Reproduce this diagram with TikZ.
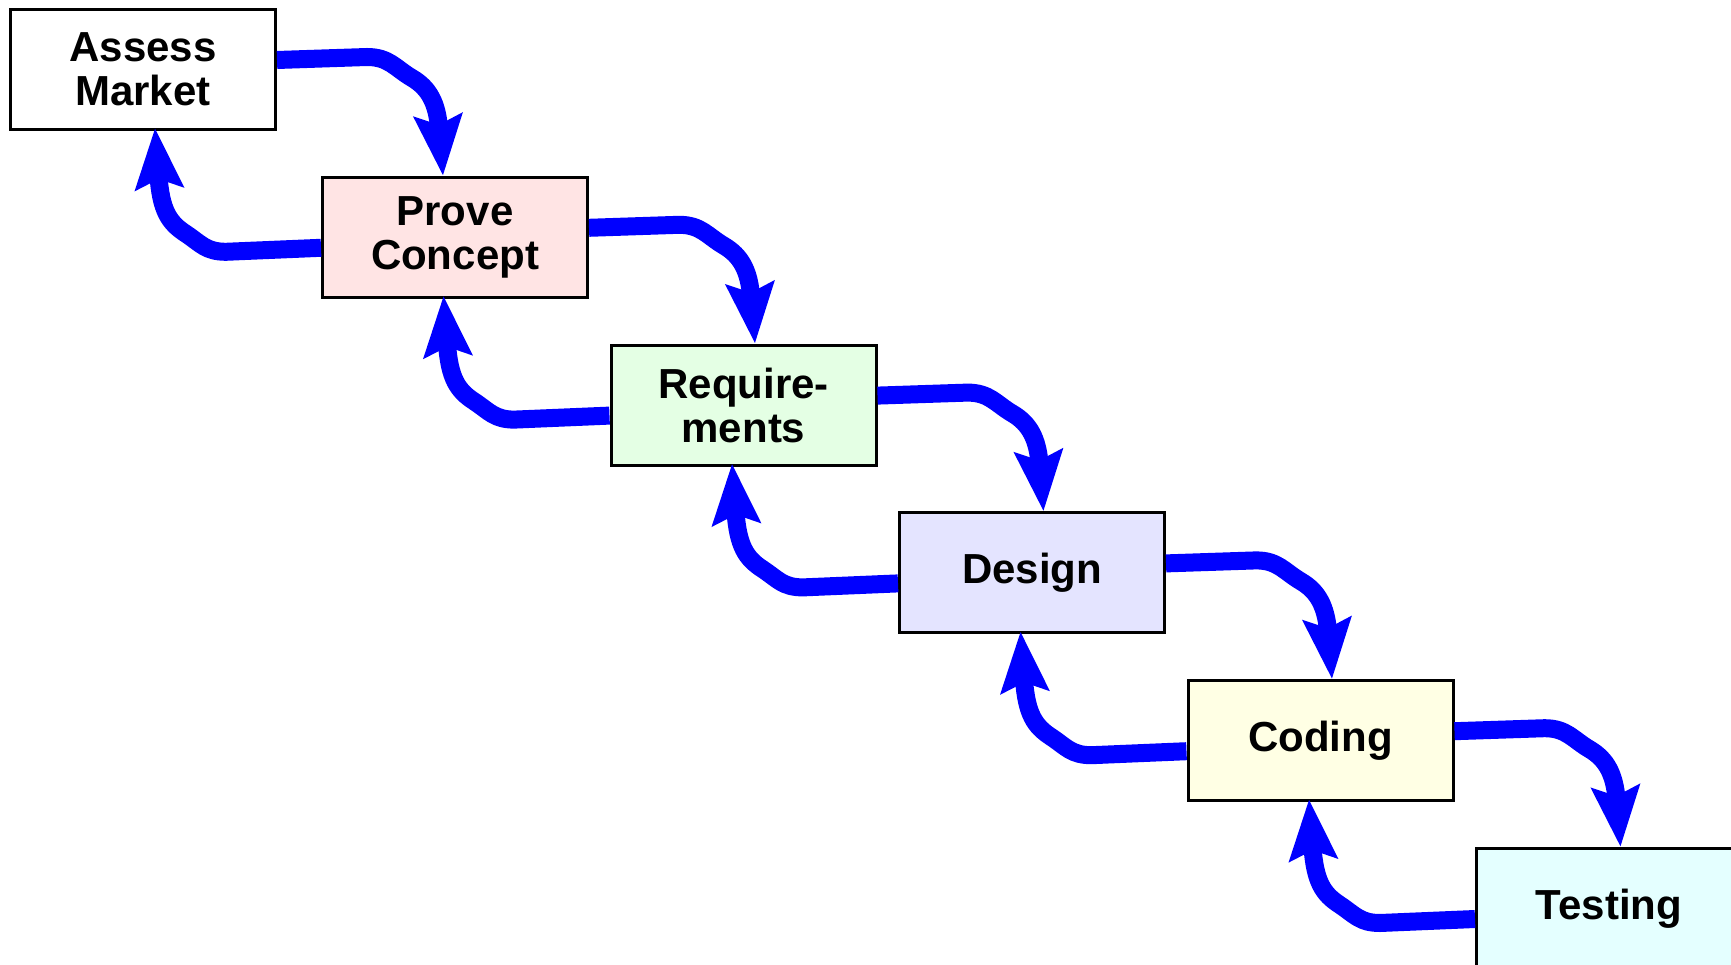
\documentclass[tikz,border=0pt]{standalone}
\usepackage{fontspec}
\setmainfont{Liberation Sans}
\usetikzlibrary{arrows.meta,calc}
\definecolor{cpink}{RGB}{255,228,228}
\definecolor{cgreen}{RGB}{228,255,228}
\definecolor{clav}{RGB}{228,228,255}
\definecolor{cyel}{RGB}{255,255,228}
\definecolor{ccyan}{RGB}{228,255,255}
\tikzset{
  stage/.style={draw=black, line width=3pt, anchor=north west, minimum width=265pt, minimum height=120pt,
    inner sep=0pt, align=center, font=\fontsize{42}{44}\selectfont\bfseries},
  conn/.style={draw=blue, line width=18pt, -{Stealth[length=60pt,width=47pt,inset=9pt]}},
}
\begin{document}
\begin{tikzpicture}[x=1pt,y=-1pt]
\useasboundingbox (0,0) rectangle (1731,965);
\clip (0,0) rectangle (1731,965);
\node[stage, fill=white] (a) at (9,8) {Assess\\Market};
\node[stage, fill=cpink] (b) at (321,175.8) {Prove\\Concept};
\node[stage, fill=cgreen] (c) at (609.5,343.6) {Require-\\ments};
\node[stage, fill=clav] (d) at (898,511.4) {Design};
\node[stage, fill=cyel] (e) at (1186.5,679.2) {Coding};
\node[stage, fill=ccyan] (f) at (1475,847) {Testing};
\foreach \s/\t in {a/b,b/c,c/d,d/e,e/f}{
  \draw[conn] ($(\s.north east)+(0,52)$) -- ($(\s.north east)+(90,49)$)
    .. controls ($(\s.north east)+(112,49)$) and ($(\s.north east)+(118,60)$) .. ($(\s.north east)+(135,70)$)
    .. controls ($(\s.north east)+(152,80)$) and ($(\s.north east)+(160,95)$) .. ($(\s.north east)+(166,167.8)$);
  \draw[conn] ($(\t.north west)+(0,72)$) -- ($(\t.north west)+(-95,76)$)
    .. controls ($(\t.north west)+(-115,76)$) and ($(\t.north west)+(-120,68)$) .. ($(\t.north west)+(-135,58)$)
    .. controls ($(\t.north west)+(-152,47)$) and ($(\t.north west)+(-160,35)$) .. ($(\t.north west)+(-166,-47.8)$);
}
\end{tikzpicture}
\end{document}
